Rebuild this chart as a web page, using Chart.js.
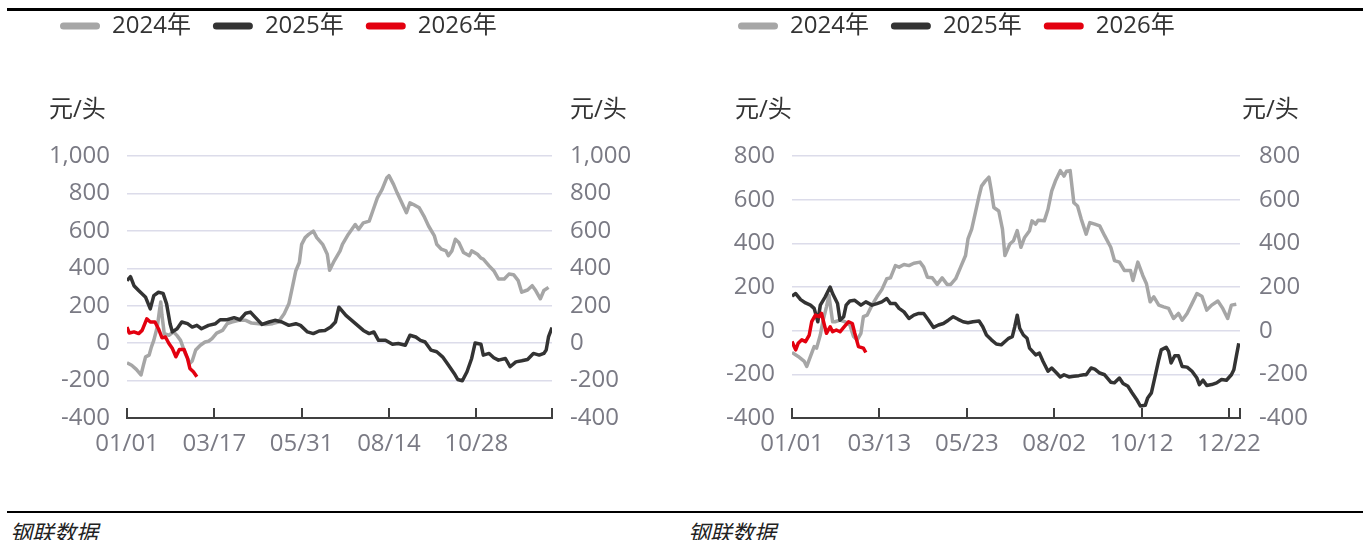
<!DOCTYPE html>
<html>
<head>
<meta charset="utf-8">
<script src="https://cdn.jsdelivr.net/npm/chart.js@4.4.1/dist/chart.umd.min.js"></script>
<style>
  html, body { margin: 0; padding: 0; background: #fff; }
  body { width: 1365px; height: 540px; position: relative; overflow: hidden; }
  .rule { position: absolute; left: 7px; width: 1356px; background: #000; }
  .src { position: absolute; top: 515px; font: italic 22px "Noto Sans CJK SC", sans-serif; color: #222; }
  canvas { position: absolute; top: -8px; }
</style>
</head>
<body>
<div class="rule" style="top:8px;height:3px"></div>
<div class="rule" style="top:511px;height:2px"></div>
<canvas id="leftChart" width="682" height="478" style="left:0"></canvas>
<canvas id="rightChart" width="683" height="478" style="left:682px"></canvas>
<div class="src" style="left:10px">钢联数据</div>
<div class="src" style="left:688px">钢联数据</div>
<script>
// series names and colours
const seriesNames = ['2024年', '2025年', '2026年'];
const seriesColors = ['#a6a6a6', '#333333', '#e3000f'];

// left panel: x in day-of-year index
const leftTickDays = [0, 75, 150, 225, 300, 365];
const leftTickLabels = ['01/01', '03/17', '05/31', '08/14', '10/28', ''];

const left2024Days = [0, 4, 8, 12, 14, 16, 19, 21, 23, 26, 28, 29, 30, 32, 36, 40, 43, 46, 50, 54, 56, 59, 63, 67, 70, 73, 77, 82, 86, 90, 96, 102, 107, 113, 119, 125, 130, 135, 139, 142, 145, 148, 150, 153, 156, 160, 163, 168, 172, 174, 178, 183, 185, 190, 196, 199, 203, 208, 211, 215, 219, 223, 225, 229, 232, 236, 240, 243, 246, 251, 255, 259, 264, 266, 270, 274, 276, 279, 282, 285, 289, 294, 296, 301, 304, 306, 311, 315, 319, 324, 328, 332, 336, 339, 344, 348, 351, 355, 358, 362];
const left2024Vals = [-105, -118, -140, -170, -120, -73, -64, -20, 15, 86, 180, 220, 150, 50, 42, 60, 40, 15, -55, -108, -95, -37, -11, 6, 10, 24, 54, 68, 104, 113, 122, 122, 107, 104, 100, 104, 113, 157, 210, 298, 387, 431, 528, 564, 581, 599, 564, 528, 475, 390, 440, 493, 528, 581, 634, 608, 643, 652, 705, 776, 820, 882, 895, 847, 803, 750, 697, 750, 741, 723, 679, 626, 573, 528, 502, 493, 467, 493, 555, 538, 484, 467, 493, 475, 454, 449, 413, 387, 343, 343, 369, 366, 334, 272, 284, 307, 281, 237, 281, 298];

const left2025Days = [0, 3, 6, 10, 16, 20, 23, 27, 31, 34, 37, 39, 43, 47, 52, 56, 60, 64, 70, 76, 80, 86, 92, 97, 102, 106, 110, 116, 122, 127, 133, 139, 145, 149, 155, 160, 165, 170, 175, 179, 182, 188, 193, 198, 203, 208, 212, 216, 222, 228, 233, 239, 243, 248, 252, 256, 261, 266, 271, 276, 281, 284, 288, 292, 296, 299, 304, 306, 311, 315, 319, 325, 329, 334, 339, 344, 349, 354, 358, 360, 362, 365];
const left2025Vals = [334, 355, 307, 281, 245, 183, 254, 272, 266, 210, 104, 60, 77, 113, 104, 86, 95, 77, 95, 104, 125, 125, 136, 125, 160, 166, 139, 100, 113, 122, 113, 95, 104, 95, 60, 51, 65, 68, 86, 113, 192, 148, 122, 95, 68, 51, 60, 15, 15, -6, -2, -11, 42, 33, 15, 6, -37, -46, -73, -117, -162, -194, -201, -153, -82, 1, -6, -64, -55, -78, -91, -82, -126, -100, -94, -87, -55, -64, -55, -37, 33, 83];

const left2026Days = [0, 2, 6, 10, 13, 17, 20, 24, 27, 30, 33, 36, 39, 42, 45, 49, 52, 54, 57, 60];
const left2026Vals = [86, 54, 60, 51, 68, 130, 113, 113, 77, 29, 33, -2, -29, -73, -34, -34, -82, -135, -153, -180];

// right panel
const rightTickDays = [0, 71, 142, 213, 284, 355, 364];
const rightTickLabels = ['01/01', '03/13', '05/23', '08/02', '10/12', '12/22', ''];

const right2024Days = [0, 5, 10, 12, 15, 18, 20, 23, 25, 28, 30, 33, 35, 39, 43, 47, 50, 53, 56, 58, 61, 65, 69, 73, 77, 80, 84, 87, 91, 95, 99, 104, 107, 110, 114, 118, 122, 126, 129, 133, 137, 141, 143, 146, 149, 152, 154, 157, 160, 162, 164, 168, 171, 173, 177, 180, 183, 186, 189, 193, 195, 198, 200, 205, 208, 211, 214, 218, 221, 223, 226, 229, 232, 235, 239, 242, 246, 250, 254, 259, 262, 266, 270, 275, 277, 281, 285, 288, 291, 294, 298, 302, 306, 310, 314, 317, 321, 325, 329, 333, 337, 341, 346, 350, 354, 357, 361];
const right2024Vals = [-100, -118, -141, -164, -118, -73, -80, -20, 41, 109, 162, 41, 41, 48, 41, 26, -27, -42, -12, 64, 71, 117, 155, 188, 238, 242, 298, 291, 303, 298, 309, 314, 291, 245, 242, 212, 242, 212, 212, 238, 291, 344, 420, 465, 541, 617, 662, 685, 703, 639, 564, 548, 465, 344, 397, 412, 458, 382, 427, 458, 503, 488, 506, 503, 556, 639, 685, 733, 708, 730, 733, 586, 571, 511, 442, 495, 488, 480, 435, 382, 321, 314, 276, 276, 230, 314, 253, 215, 132, 155, 117, 109, 102, 56, 79, 48, 79, 124, 170, 158, 94, 117, 136, 102, 56, 117, 121];

const right2025Days = [0, 3, 7, 11, 15, 18, 21, 23, 27, 31, 33, 37, 39, 42, 44, 47, 51, 56, 60, 65, 69, 73, 77, 80, 84, 87, 91, 95, 99, 103, 107, 111, 115, 119, 123, 127, 131, 135, 139, 143, 147, 152, 155, 158, 162, 166, 170, 174, 176, 179, 181, 183, 185, 188, 191, 193, 198, 201, 204, 208, 211, 215, 218, 221, 225, 229, 233, 237, 239, 243, 246, 250, 254, 259, 262, 266, 269, 273, 276, 280, 283, 287, 289, 292, 295, 298, 300, 304, 306, 308, 311, 314, 317, 321, 325, 329, 331, 334, 337, 341, 345, 349, 353, 357, 359, 361, 363];
const right2025Vals = [158, 170, 142, 127, 117, 102, 41, 117, 155, 200, 170, 124, 48, 64, 117, 136, 139, 117, 132, 117, 124, 132, 147, 124, 124, 102, 86, 56, 71, 79, 79, 48, 15, 26, 33, 48, 64, 52, 41, 36, 41, 44, 18, -20, -42, -61, -65, -45, -35, -27, 18, 71, 11, -20, -35, -80, -111, -103, -141, -186, -171, -194, -212, -202, -212, -209, -206, -202, -202, -171, -176, -194, -202, -236, -239, -217, -242, -255, -282, -315, -345, -342, -308, -285, -209, -133, -88, -76, -95, -148, -115, -115, -164, -167, -186, -217, -247, -227, -251, -247, -239, -224, -227, -202, -179, -118, -58];

const right2026Days = [0, 3, 5, 8, 11, 14, 16, 19, 22, 24, 26, 28, 31, 33, 36, 39, 42, 46, 49, 51, 54, 58, 60];
const right2026Vals = [-50, -88, -58, -42, -50, -20, 41, 71, 64, 79, 33, -12, 18, -5, 3, -5, 15, 41, 33, -12, -73, -80, -100];

const FONT = '"Open Sans", "Noto Sans CJK SC", sans-serif';
Chart.defaults.font.family = FONT;
Chart.defaults.font.size = 24;
Chart.defaults.animation = false;

function toPoints(days, vals) {
  return days.map((d, i) => ({ x: d, y: vals[i] }));
}

// units above both y axes
const unitPlugin = {
  id: 'units',
  afterDraw(chart, args, opts) {
    const { ctx, chartArea } = chart;
    ctx.save();
    ctx.font = '24px ' + FONT;
    ctx.fillStyle = '#333';
    ctx.textBaseline = 'middle';
    ctx.textAlign = 'left';
    const y = chartArea.top - 46;
    ctx.fillText('元/头', chartArea.left + opts.leftOffset, y);
    ctx.fillText('元/头', chartArea.right + opts.rightOffset, y);
    ctx.restore();
  }
};

// small upward tick marks on the x axis
const tickMarks = {
  id: 'tickMarks',
  afterDraw(chart) {
    const { ctx, chartArea } = chart;
    const xs = chart.scales.x;
    ctx.save();
    ctx.strokeStyle = '#404040';
    ctx.lineWidth = 2;
    xs.ticks.forEach(t => {
      const px = Math.round(xs.getPixelForValue(t.value));
      ctx.beginPath();
      ctx.moveTo(px, chartArea.bottom);
      ctx.lineTo(px, chartArea.bottom - 10);
      ctx.stroke();
    });
    ctx.restore();
  }
};

function makeChart(id, cfg) {
  const datasets = cfg.series.map((s, i) => ({
    label: seriesNames[i],
    data: toPoints(s[0], s[1]),
    borderColor: seriesColors[i],
    backgroundColor: seriesColors[i],
    borderWidth: 3.5,
    pointRadius: 0,
    tension: 0,
    borderJoinStyle: 'round',
    order: 3 - i
  }));

  const yCommon = {
    min: cfg.yMin,
    max: cfg.yMax,
    ticks: {
      stepSize: 200,
      color: '#7a7a84',
      callback: v => v.toLocaleString('en-US')
    },
    border: { display: false }
  };

  return new Chart(document.getElementById(id), {
    type: 'line',
    data: { datasets },
    options: {
      responsive: false,
      layout: { padding: { left: cfg.padLeft, top: 0, right: 0, bottom: 0 } },
      plugins: {
        legend: {
          position: 'top',
          align: 'start',
          weight: 3000,
          labels: {
            color: '#333',
            boxWidth: 40,
            boxHeight: 7,
            padding: 22,
            useBorderRadius: true,
            borderRadius: 3.5,
            sort: (a, b) => a.datasetIndex - b.datasetIndex,
            generateLabels(chart) {
              const items = Chart.defaults.plugins.legend.labels.generateLabels(chart);
              items.forEach(it => {
                it.lineWidth = 0;
                it.fillStyle = seriesColors[it.datasetIndex];
                it.borderRadius = 3.5;
              });
              return items;
            }
          }
        },
        // empty spacer between legend and plot
        title: {
          display: true,
          text: '',
          font: { size: 10, lineHeight: 1 },
          padding: { top: 0, bottom: 98 }
        },
        tooltip: { enabled: false },
        units: { leftOffset: cfg.unitLeft, rightOffset: cfg.unitRight }
      },
      scales: {
        x: {
          type: 'linear',
          min: 0,
          max: cfg.tickDays[cfg.tickDays.length - 1],
          afterBuildTicks: s => { s.ticks = cfg.tickDays.map(v => ({ value: v })); },
          afterFit: s => { s.height = 52; },
          grid: { display: false, drawTicks: false },
          border: { display: true, color: '#404040', width: 2 },
          ticks: {
            autoSkip: false,
            maxRotation: 0,
            padding: 12,
            color: '#7a7a84',
            callback: (v) => cfg.tickLabels[cfg.tickDays.indexOf(v)]
          }
        },
        y: Object.assign({}, yCommon, {
          position: 'left',
          grid: { color: '#dcdcea', lineWidth: 1.5, drawTicks: false },
          ticks: Object.assign({}, yCommon.ticks, { padding: cfg.yPadLeft }),
          afterFit: s => { s.width = cfg.yWidthLeft; }
        }),
        y2: Object.assign({}, yCommon, {
          position: 'right',
          grid: { display: false, drawTicks: false },
          ticks: Object.assign({}, yCommon.ticks, { padding: cfg.yPadRight }),
          afterFit: s => { s.width = cfg.yWidthRight; }
        })
      }
    },
    plugins: [unitPlugin, tickMarks]
  });
}

makeChart('leftChart', {
  series: [[left2024Days, left2024Vals], [left2025Days, left2025Vals], [left2026Days, left2026Vals]],
  tickDays: leftTickDays,
  tickLabels: leftTickLabels,
  yMin: -400, yMax: 1000,
  padLeft: 38, yWidthLeft: 89, yWidthRight: 130,
  yPadLeft: 17, yPadRight: 18,
  unitLeft: -78, unitRight: 18
});

makeChart('rightChart', {
  series: [[right2024Days, right2024Vals], [right2025Days, right2025Vals], [right2026Days, right2026Vals]],
  tickDays: rightTickDays,
  tickLabels: rightTickLabels,
  yMin: -400, yMax: 800,
  padLeft: 34, yWidthLeft: 76, yWidthRight: 125,
  yPadLeft: 17, yPadRight: 19,
  unitLeft: -57, unitRight: 2
});
</script>
</body>
</html>
